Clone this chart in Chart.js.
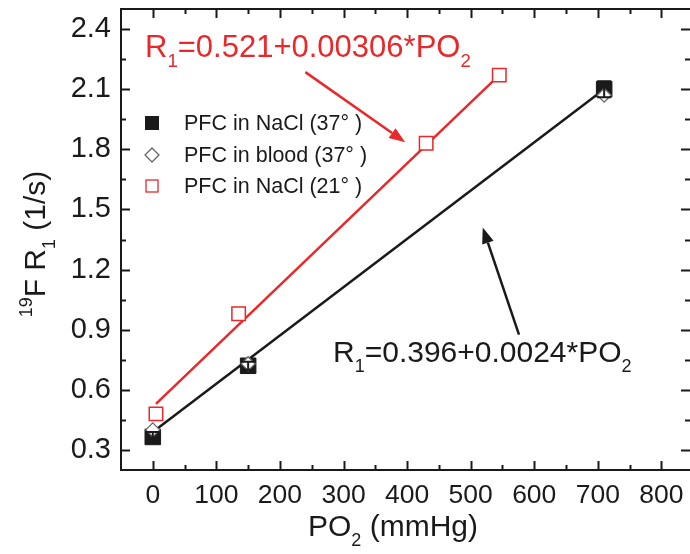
<!DOCTYPE html>
<html>
<head>
<meta charset="utf-8">
<script src="https://cdn.jsdelivr.net/npm/chart.js@4.4.0/dist/chart.umd.min.js"></script>
<style>
  html, body { margin: 0; padding: 0; background: #fff; }
  #wrap { width: 690px; height: 554px; }
</style>
</head>
<body>
<div id="wrap"><canvas id="chart"></canvas></div>
<script>
// tick labels
const xTicks = [0, 100, 200, 300, 400, 500, 600, 700, 800];
const yTicks = [0.3, 0.6, 0.9, 1.2, 1.5, 1.8, 2.1, 2.4];

// PFC in NaCl (37°)
const naclX = [0, 150, 710];
const naclY = [0.365, 0.72, 2.10];
const naclErr = [0.025, 0.02, 0.04];
// PFC in blood (37°)
const bloodX = [0, 150, 710];
const bloodY = [0.40, 0.73, 2.07];
// PFC in NaCl (21°)
const nacl21X = [5, 135, 430, 545];
const nacl21Y = [0.48, 0.98, 1.83, 2.17];

// fitted lines, end points
const fit37X = [0, 710];
const fit37Y = [0.39, 2.10];
const fit21X = [5, 545];
const fit21Y = [0.53, 2.17];

const legendLabels = ['PFC in NaCl (37° )', 'PFC in blood (37° )', 'PFC in NaCl (21° )'];

const FONT = 'Arial, "Liberation Sans", sans-serif';
const RED = '#e8282a';
const INK = '#1a1a1a';

const toPts = (xs, ys) => xs.map((x, i) => ({ x: x, y: ys[i] }));

// text with subscripts / superscripts: parts = [[text, mode], ...]
function drawRich(ctx, parts, x, y, size, color) {
  ctx.fillStyle = color;
  ctx.textBaseline = 'alphabetic';
  ctx.textAlign = 'left';
  let cx = x;
  parts.forEach(p => {
    let s = size, dy = 0;
    if (p[1] === 'sub') { s = size * 0.6; dy = size * 0.32; }
    if (p[1] === 'sup') { s = size * 0.6; dy = -size * 0.42; }
    ctx.font = s + 'px ' + FONT;
    ctx.fillText(p[0], cx, y + dy);
    cx += ctx.measureText(p[0]).width;
  });
  return cx - x;
}
function richWidth(ctx, parts, size) {
  let w = 0;
  parts.forEach(p => {
    const s = p[1] ? size * 0.6 : size;
    ctx.font = s + 'px ' + FONT;
    w += ctx.measureText(p[0]).width;
  });
  return w;
}

function arrow(ctx, x1, y1, x2, y2, color) {
  const a = Math.atan2(y2 - y1, x2 - x1);
  const L = 16, W = 6;
  ctx.strokeStyle = color;
  ctx.fillStyle = color;
  ctx.lineWidth = 2.5;
  ctx.beginPath();
  ctx.moveTo(x1, y1);
  ctx.lineTo(x2 - L * Math.cos(a), y2 - L * Math.sin(a));
  ctx.stroke();
  ctx.beginPath();
  ctx.moveTo(x2, y2);
  ctx.lineTo(x2 - L * Math.cos(a) + W * Math.sin(a), y2 - L * Math.sin(a) - W * Math.cos(a));
  ctx.lineTo(x2 - L * Math.cos(a) - W * Math.sin(a), y2 - L * Math.sin(a) + W * Math.cos(a));
  ctx.closePath();
  ctx.fill();
}

const framePlugin = {
  id: 'frame',
  afterDatasetsDraw(chart) {
    const ctx = chart.ctx;
    const a = chart.chartArea;
    const xs = chart.scales.x, ys = chart.scales.y;
    ctx.save();

    // error bars on the 37° NaCl points
    ctx.strokeStyle = INK;
    ctx.lineWidth = 2;
    naclX.forEach((v, i) => {
      const px = xs.getPixelForValue(v);
      const top = ys.getPixelForValue(naclY[i] + naclErr[i]);
      const bot = ys.getPixelForValue(naclY[i] - naclErr[i]);
      ctx.beginPath();
      ctx.moveTo(px, top); ctx.lineTo(px, bot);
      ctx.moveTo(px - 7, top); ctx.lineTo(px + 7, top);
      ctx.moveTo(px - 7, bot); ctx.lineTo(px + 7, bot);
      ctx.stroke();
    });

    // box (right edge falls just outside the picture) and inward ticks
    ctx.strokeStyle = INK;
    ctx.lineWidth = 2;
    ctx.beginPath();
    ctx.moveTo(a.right, a.top); ctx.lineTo(a.left, a.top);
    ctx.lineTo(a.left, a.bottom); ctx.lineTo(a.right, a.bottom);
    ctx.stroke();
    ctx.beginPath();
    for (let v = -50; v <= 850; v += 50) {
      const px = Math.round(xs.getPixelForValue(v)) + 0.5;
      if (px <= a.left + 1 || px >= a.right - 1) continue;
      const len = v % 100 === 0 ? 9 : 5;
      ctx.moveTo(px, a.bottom); ctx.lineTo(px, a.bottom - len);
      ctx.moveTo(px, a.top); ctx.lineTo(px, a.top + len);
    }
    for (let i = 1; i <= 16; i++) {
      const v = 0.15 * i;
      const py = Math.round(ys.getPixelForValue(v)) + 0.5;
      if (py <= a.top + 1 || py >= a.bottom - 1) continue;
      const len = i % 2 === 0 ? 9 : 5;
      ctx.moveTo(a.left, py); ctx.lineTo(a.left + len, py);
      ctx.moveTo(a.right, py); ctx.lineTo(a.right - len, py);
    }
    ctx.stroke();

    // legend
    const lx = 152, ly = [123, 155, 186], tx = 184;
    ctx.fillStyle = INK;
    ctx.fillRect(lx - 7, ly[0] - 7, 14, 14);
    ctx.strokeStyle = '#666';
    ctx.lineWidth = 1.3;
    ctx.beginPath();
    ctx.moveTo(lx, ly[1] - 7); ctx.lineTo(lx + 7, ly[1]); ctx.lineTo(lx, ly[1] + 7); ctx.lineTo(lx - 7, ly[1]);
    ctx.closePath(); ctx.stroke();
    ctx.strokeStyle = RED;
    ctx.strokeRect(lx - 6, ly[2] - 6, 12, 12);
    ctx.fillStyle = INK;
    ctx.font = '21.5px ' + FONT;
    ctx.textBaseline = 'middle';
    legendLabels.forEach((t, i) => ctx.fillText(t, tx, ly[i] + 1));

    // fit equations and arrows
    drawRich(ctx, [['R'], ['1', 'sub'], ['=0.521+0.00306*PO'], ['2', 'sub']], 145, 57, 31, RED);
    drawRich(ctx, [['R'], ['1', 'sub'], ['=0.396+0.0024*PO'], ['2', 'sub']], 333, 362, 30, INK);
    arrow(ctx, xs.getPixelForValue(240), ys.getPixelForValue(2.185),
               xs.getPixelForValue(397), ys.getPixelForValue(1.835), RED);
    arrow(ctx, xs.getPixelForValue(576), ys.getPixelForValue(0.875),
               xs.getPixelForValue(519), ys.getPixelForValue(1.41), INK);

    // axis titles
    const xt = [['PO'], ['2', 'sub'], [' (mmHg)']];
    const xw = richWidth(ctx, xt, 30);
    drawRich(ctx, xt, 393 - xw / 2, 536, 30, INK);
    const yt = [['19', 'sup'], ['F R'], ['1', 'sub'], [' (1/s)']];
    const yw = richWidth(ctx, yt, 30);
    ctx.translate(45, 244);
    ctx.rotate(-Math.PI / 2);
    drawRich(ctx, yt, -yw / 2, 0, 30, INK);
    ctx.restore();
  }
};

new Chart(document.getElementById('chart'), {
  type: 'scatter',
  data: {
    datasets: [
      {
        label: 'PFC in blood (37° )',
        data: toPts(bloodX, bloodY),
        pointStyle: 'rectRot',
        pointRadius: 7,
        backgroundColor: '#fff',
        borderColor: '#666',
        borderWidth: 1.3,
        order: 1
      },
      {
        label: 'PFC in NaCl (37° )',
        data: toPts(naclX, naclY),
        pointStyle: 'rect',
        pointRadius: 11,
        backgroundColor: INK,
        borderColor: INK,
        borderWidth: 1,
        order: 2
      },
      {
        label: 'PFC in NaCl (21° )',
        data: toPts(nacl21X, nacl21Y),
        pointStyle: 'rect',
        pointRadius: 9.5,
        backgroundColor: '#fff',
        borderColor: RED,
        borderWidth: 1.5,
        order: 3
      },
      {
        label: 'fit 37',
        data: toPts(fit37X, fit37Y),
        showLine: true,
        pointRadius: 0,
        borderColor: INK,
        borderWidth: 2.5,
        order: 4
      },
      {
        label: 'fit 21',
        data: toPts(fit21X, fit21Y),
        showLine: true,
        pointRadius: 0,
        borderColor: RED,
        borderWidth: 2.5,
        order: 5
      }
    ]
  },
  options: {
    responsive: true,
    maintainAspectRatio: false,
    animation: false,
    layout: { autoPadding: false, padding: { top: 9, right: 0, left: 0, bottom: 0 } },
    plugins: {
      legend: { display: false },
      tooltip: { enabled: false }
    },
    scales: {
      x: {
        type: 'linear',
        min: -50,
        max: 845,
        grid: { display: false, drawTicks: false },
        border: { display: false },
        afterBuildTicks: s => { s.ticks = xTicks.map(v => ({ value: v })); },
        afterFit: s => { s.height = 84; s.paddingLeft = 0; s.paddingRight = 0; },
        ticks: {
          color: INK,
          padding: 10,
          maxRotation: 0,
          font: { size: 26.5, family: FONT },
          callback: v => String(v)
        }
      },
      y: {
        type: 'linear',
        min: 0.2,
        max: 2.5,
        grid: { display: false, drawTicks: false },
        border: { display: false },
        afterBuildTicks: s => { s.ticks = yTicks.map(v => ({ value: v })); },
        afterFit: s => { s.width = 121; s.paddingTop = 0; s.paddingBottom = 0; },
        ticks: {
          color: INK,
          padding: 10,
          font: { size: 29, family: FONT },
          callback: v => Number(v).toFixed(1)
        }
      }
    }
  },
  plugins: [framePlugin]
});
</script>
</body>
</html>
